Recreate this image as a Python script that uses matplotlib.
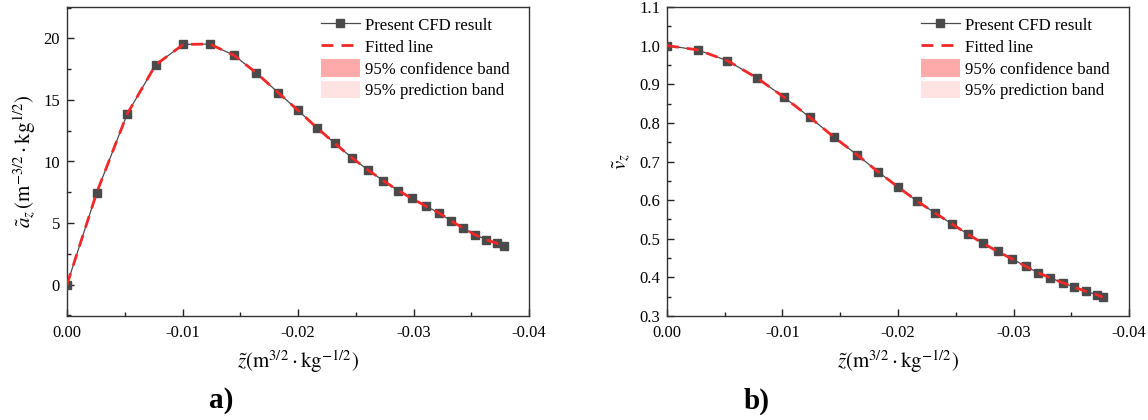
import matplotlib
matplotlib.use("Agg")
import matplotlib.pyplot as plt
from matplotlib.lines import Line2D
from matplotlib.patches import Patch
from matplotlib.ticker import MultipleLocator, FormatStrFormatter

plt.rcParams["font.family"] = ["Liberation Serif", "DejaVu Serif"]
plt.rcParams["mathtext.fontset"] = "stix"

# panel a) acceleration
z_a = [0.0, -0.00257, -0.0052, -0.00768, -0.01007, -0.01236, -0.01447, -0.01639,
       -0.01828, -0.01998, -0.02163, -0.02318, -0.02466, -0.02606, -0.02739,
       -0.02869, -0.02987, -0.03105, -0.0322, -0.03325, -0.0343, -0.03529,
       -0.03628, -0.03724, -0.03783]
a_z = [0.0, 7.46, 13.84, 17.86, 19.51, 19.54, 18.62, 17.2, 15.6, 14.17, 12.75,
       11.48, 10.31, 9.31, 8.44, 7.63, 7.0, 6.38, 5.83, 5.18, 4.59, 4.07, 3.66,
       3.34, 3.12]

# panel b) velocity
z_b = [0.0, -0.00265, -0.00523, -0.00775, -0.01011, -0.01234, -0.01442, -0.01643,
       -0.01825, -0.02, -0.02163, -0.02319, -0.02469, -0.02603, -0.02737,
       -0.02864, -0.02986, -0.03104, -0.03212, -0.03317, -0.03426, -0.03525,
       -0.03624, -0.03722, -0.03773]
v_z = [1.0, 0.989, 0.961, 0.917, 0.867, 0.815, 0.764, 0.718, 0.674, 0.634, 0.598,
       0.567, 0.538, 0.512, 0.488, 0.467, 0.448, 0.429, 0.412, 0.399, 0.386,
       0.375, 0.364, 0.355, 0.349]

x_ticks = [0.0, -0.01, -0.02, -0.03, -0.04]
x_ticklabels = ["0.00", "-0.01", "-0.02", "-0.03", "-0.04"]
legend_labels = ["Present CFD result", "Fitted line", "95% confidence band",
                 "95% prediction band"]

CFD_COLOR = "#4a4a4a"
FIT_COLOR = "#f02828"
CONF_COLOR = "#ffaaaa"
PRED_COLOR = "#ffe2e2"
DASH = (0, (4.3, 2.9))

XLABEL = r"$\tilde{z}(\mathrm{m}^{3/2}\cdot\mathrm{kg}^{-1/2})$"

W, H = 1148, 420


def draw_panel(ax, left_px, z, y, ylabel, ylim, ymajor, yminor, yfmt):
    ax.plot(z, y, color=CFD_COLOR, lw=0.9, marker="s", ms=6,
            mfc=CFD_COLOR, mec=CFD_COLOR, zorder=3)
    ax.plot(z, y, color=FIT_COLOR, lw=2.0, ls=DASH, zorder=4)
    ax.set_xlim(0, -0.04)
    ax.set_ylim(*ylim)
    ax.set_xticks(x_ticks)
    ax.set_xticklabels(x_ticklabels)
    ax.xaxis.set_minor_locator(MultipleLocator(0.005))
    ax.yaxis.set_major_locator(MultipleLocator(ymajor))
    ax.yaxis.set_minor_locator(MultipleLocator(yminor))
    ax.yaxis.set_major_formatter(FormatStrFormatter(yfmt))
    ax.tick_params(which="both", direction="in", top=False, right=False,
                   labelsize=12, colors="#222222", labelcolor="black")
    ax.tick_params(which="major", length=5, width=1)
    ax.tick_params(which="minor", length=3, width=1)
    ax.tick_params(axis="x", which="major", pad=6.5)
    ax.tick_params(axis="y", which="major", pad=5)
    for sp in ax.spines.values():
        sp.set_color("#333333")
        sp.set_linewidth(1.0)
    ax.set_xlabel(XLABEL, fontsize=15, labelpad=5)
    ax.set_ylabel(ylabel, fontsize=15, labelpad=4)

    handles = [
        Line2D([], [], color=CFD_COLOR, lw=0.9, marker="s", ms=6),
        Line2D([], [], color=FIT_COLOR, lw=2.0, ls=DASH),
        Patch(facecolor=CONF_COLOR, edgecolor="none"),
        Patch(facecolor=PRED_COLOR, edgecolor="none"),
    ]
    ax.legend(handles, legend_labels, loc="upper left", frameon=False,
              fontsize=12.1, handlelength=2.3, handleheight=1.2,
              labelspacing=0.2, handletextpad=0.3, borderpad=0,
              borderaxespad=0,
              bbox_to_anchor=((left_px + 254) / W, 1 - 16 / H),
              bbox_transform=fig.transFigure)


fig = plt.figure(figsize=(W / 100, H / 100), dpi=100)
ax_a = fig.add_axes([67 / W, 1 - 316 / H, 462 / W, 309 / H])
ax_b = fig.add_axes([667 / W, 1 - 316 / H, 462 / W, 309 / H])

draw_panel(ax_a, 67, z_a, a_z,
           r"$\tilde{a}_z\,(\mathrm{m}^{-3/2}\cdot\mathrm{kg}^{1/2})$",
           (-2.55, 22.55), 5, 2.5, "%d")
draw_panel(ax_b, 667, z_b, v_z, r"$\tilde{v}_z$", (0.3, 1.1), 0.1, 0.05, "%.1f")

fig.text(221 / W, 1 - 401 / H, "a)", fontsize=21, fontweight="bold",
         ha="center", va="center")
fig.text(757 / W, 1 - 401 / H, "b)", fontsize=21, fontweight="bold",
         ha="center", va="center")

fig.savefig("out.png", dpi=100)
